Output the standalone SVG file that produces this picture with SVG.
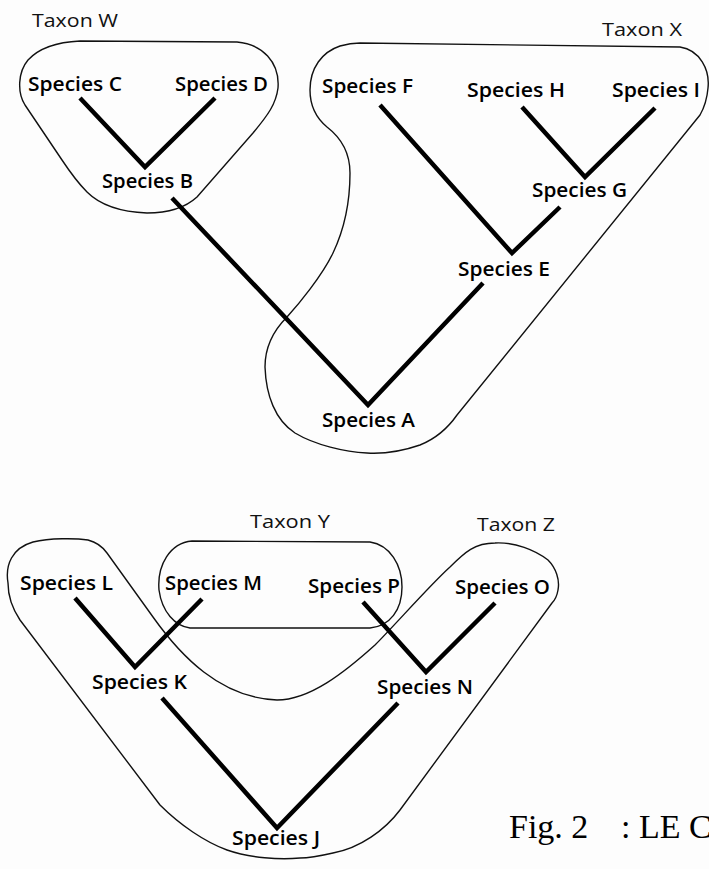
<svg xmlns="http://www.w3.org/2000/svg" width="709" height="869" viewBox="0 0 709 869">
<style>
.bg{fill:#fdfdfd}
.blob{fill:none;stroke:#111;stroke-width:1.4;stroke-linejoin:round}
.edge{fill:none;stroke:#000;stroke-width:4.5;stroke-linejoin:miter;stroke-linecap:butt}
.sp{font-family:"Open Sans","Liberation Sans",sans-serif;font-weight:600;font-size:20px;fill:#000}
.tx{font-family:"Open Sans","Liberation Sans",sans-serif;font-weight:400;font-size:18px;fill:#111}
.fig{font-family:"Liberation Serif","Times New Roman",serif;font-size:34px;fill:#000}
</style>
<rect class="bg" x="0" y="0" width="709" height="869"/>

<g id="taxon-w">
<path class="blob" d="M80,41 L237,42 C262,44 280,62 278,88 C276,104 268,115 253,133 L197,197 C185,208 168,213 147,213 C122,212 100,205 87,192 C78,183 70,172 62,160 L25,105 C17,92 18,72 28,60 C40,47 58,42 80,41 Z"/>
<text class="tx" x="32" y="27" textLength="86" lengthAdjust="spacingAndGlyphs">Taxon W</text>
</g>

<g id="taxon-x">
<path class="blob" d="M360,43 L680,47 C700,50 710,70 708,88 C707,100 704,108 700,115 L457,415 C450,425 440,437 420,445 C400,452 385,454 367,453 C345,452 315,445 295,433 C275,420 266,395 265,367 C265,345 274,330 287,317 C298,305 322,276 333,253 C343,232 350,205 350,173 C350,152 340,137 327,127 C315,117 310,105 310,90 C310,68 322,52 340,46 C347,44 353,43 360,43 Z"/>
<text class="tx" x="602" y="36" textLength="80" lengthAdjust="spacingAndGlyphs">Taxon X</text>
</g>

<g id="taxon-z">
<path class="blob" d="M8,583 C5,565 12,548 33,542 C50,538 75,538 88,540 C96,542 102,546 107,553 L153,617 C180,655 220,698 277,700 C310,700 345,672 375,645 C395,625 430,585 450,567 C465,552 475,543 495,543 C515,542 535,550 548,560 C556,568 560,580 558,590 C557,596 555,600 552,603 L400,810 C385,830 360,848 333,853 C320,856 310,858 300,858 C280,860 250,858 227,850 C205,842 180,825 160,805 L20,620 C12,608 8,595 8,583 Z"/>
<text class="tx" x="477" y="531" textLength="78" lengthAdjust="spacingAndGlyphs">Taxon Z</text>
</g>

<g id="taxon-y">
<path class="blob" d="M192,541 L370,542 C390,545 402,565 402,587 C402,610 390,626 370,628 L190,628 C175,626 162,612 159,590 C157,565 170,543 192,541 Z"/>
<text class="tx" x="250" y="528" textLength="80" lengthAdjust="spacingAndGlyphs">Taxon Y</text>
</g>

<g id="connectors">
<path class="edge" d="M80,98 L145,167 L215,98"/>
<path class="edge" d="M172,198 L368,405 L483,283"/>
<path class="edge" d="M380,105 L512,253 L560,207"/>
<path class="edge" d="M522,107 L585,177 L655,108"/>
<path class="edge" d="M75,598 L135,667 L202,599"/>
<path class="edge" d="M162,698 L277,828 L398,703"/>
<path class="edge" d="M363,602 L426,672 L495,603"/>
</g>

<g id="species-a"><text class="sp" x="322" y="427" textLength="93" lengthAdjust="spacingAndGlyphs">Species A</text></g>
<g id="species-b"><text class="sp" x="102" y="188" textLength="91" lengthAdjust="spacingAndGlyphs">Species B</text></g>
<g id="species-c"><text class="sp" x="28" y="91" textLength="94" lengthAdjust="spacingAndGlyphs">Species C</text></g>
<g id="species-d"><text class="sp" x="175" y="91" textLength="93" lengthAdjust="spacingAndGlyphs">Species D</text></g>
<g id="species-e"><text class="sp" x="458" y="276" textLength="92" lengthAdjust="spacingAndGlyphs">Species E</text></g>
<g id="species-f"><text class="sp" x="322" y="93" textLength="91" lengthAdjust="spacingAndGlyphs">Species F</text></g>
<g id="species-g"><text class="sp" x="532" y="197" textLength="95" lengthAdjust="spacingAndGlyphs">Species G</text></g>
<g id="species-h"><text class="sp" x="467" y="97" textLength="98" lengthAdjust="spacingAndGlyphs">Species H</text></g>
<g id="species-i"><text class="sp" x="612" y="97" textLength="88" lengthAdjust="spacingAndGlyphs">Species I</text></g>

<g id="species-j"><text class="sp" x="232" y="845" textLength="88" lengthAdjust="spacingAndGlyphs">Species J</text></g>
<g id="species-k"><text class="sp" x="92" y="689" textLength="95" lengthAdjust="spacingAndGlyphs">Species K</text></g>
<g id="species-l"><text class="sp" x="20" y="590" textLength="93" lengthAdjust="spacingAndGlyphs">Species L</text></g>
<g id="species-m"><text class="sp" x="165" y="590" textLength="97" lengthAdjust="spacingAndGlyphs">Species M</text></g>
<g id="species-n"><text class="sp" x="377" y="694" textLength="96" lengthAdjust="spacingAndGlyphs">Species N</text></g>
<g id="species-o"><text class="sp" x="455" y="594" textLength="95" lengthAdjust="spacingAndGlyphs">Species O</text></g>
<g id="species-p"><text class="sp" x="308" y="593" textLength="92" lengthAdjust="spacingAndGlyphs">Species P</text></g>

<g id="caption">
<text class="fig" y="838"><tspan x="509">Fig. 2</tspan><tspan x="621">: LE C</tspan></text>
</g>
</svg>
